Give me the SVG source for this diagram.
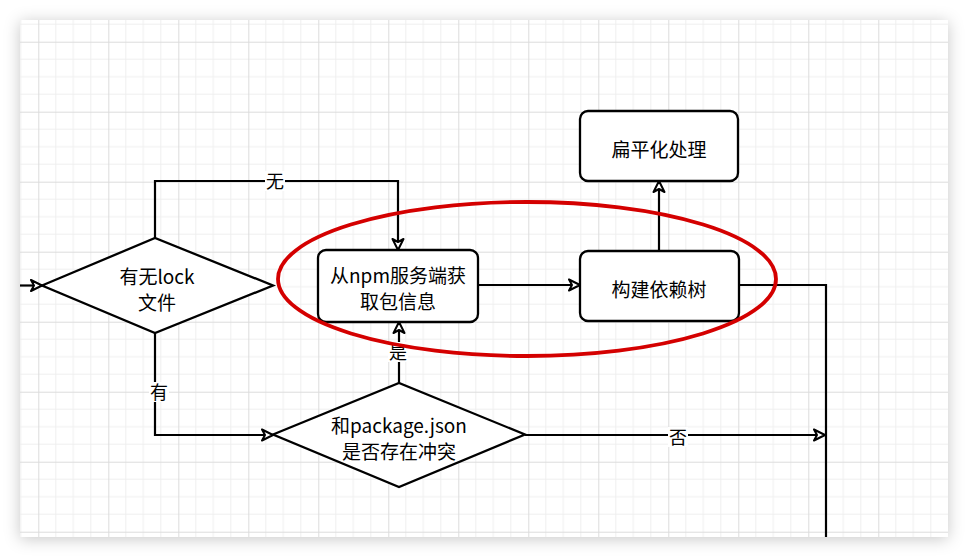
<svg xmlns="http://www.w3.org/2000/svg" width="969" height="557" viewBox="0 0 969 557">
  <defs>
    <pattern id="grid" patternUnits="userSpaceOnUse" x="38.3" y="41.7" width="70" height="70">
      <path d="M17.5,0V70M35,0V70M52.5,0V70M0,17.5H70M0,35H70M0,52.5H70" stroke="#efefef" stroke-width="1" fill="none"/>
      <path d="M0.5,0V70M0,0.5H70" stroke="#dcdcdc" stroke-width="1" fill="none"/>
    </pattern>
    <filter id="shadow" x="-10%" y="-10%" width="120%" height="120%">
      <feDropShadow dx="0" dy="2" stdDeviation="8" flood-color="#000" flood-opacity="0.22"/>
    </filter>
    <marker id="arr" markerUnits="userSpaceOnUse" markerWidth="16" markerHeight="14" refX="13" refY="7" orient="auto">
      <path d="M2,1.5 L13,7 L2,12.5 L5,7 Z" fill="#fff" stroke="#000" stroke-width="2" stroke-linejoin="round"/>
    </marker>
    <style>
      .shape { fill: #fff; stroke: #000; stroke-width: 2.3; }
      .conn { fill: none; stroke: #000; stroke-width: 2.2; }
      .t { font-family: "Noto Sans CJK SC", "Noto Sans", sans-serif; font-size: 19px; fill: #000; text-anchor: middle; }
      .lbl { font-family: "Noto Sans CJK SC", "Noto Sans", sans-serif; font-size: 18px; fill: #000; text-anchor: middle; }
      .lblbg { fill: #fff; }
    </style>
  </defs>

  <rect x="0" y="0" width="969" height="557" fill="#fff"/>
  <rect x="20" y="20" width="928" height="517" fill="#fff" filter="url(#shadow)"/>
  <rect x="20" y="20" width="928" height="517" fill="url(#grid)"/>

  <g id="connectors">
    <path class="conn" d="M20,285.5 H42" marker-end="url(#arr)"/>
    <path class="conn" d="M155,238 V181 H398 V250" marker-end="url(#arr)"/>
    <path class="conn" d="M155,333 V435 H273" marker-end="url(#arr)"/>
    <path class="conn" d="M399,383 V322" marker-end="url(#arr)"/>
    <path class="conn" d="M478,285 H580" marker-end="url(#arr)"/>
    <path class="conn" d="M659,251 V181" marker-end="url(#arr)"/>
    <path class="conn" d="M739,285 H826 V537"/>
    <path class="conn" d="M525,435 H825" marker-end="url(#arr)"/>
    <rect class="lblbg" x="265" y="171" width="20" height="20"/>
    <text class="lbl" x="275" y="187.5">无</text>
    <rect class="lblbg" x="149" y="382" width="20" height="20"/>
    <text class="lbl" x="159" y="398.5">有</text>
    <rect class="lblbg" x="388" y="342" width="20" height="20"/>
    <text class="lbl" x="398" y="358.5">是</text>
    <rect class="lblbg" x="668" y="427" width="20" height="20"/>
    <text class="lbl" x="678" y="443.5">否</text>
  </g>

  <g id="node-lock">
    <polygon class="shape" points="42,285.5 155,238 273,285.5 155,333"/>
    <text class="t" x="157" y="283.5">有无lock</text>
    <text class="t" x="157" y="309.5">文件</text>
  </g>

  <g id="node-fetch">
    <rect class="shape" x="318" y="250" width="160" height="72" rx="8"/>
    <text class="t" x="398" y="283">从npm服务端获</text>
    <text class="t" x="398" y="309">取包信息</text>
  </g>

  <g id="node-build">
    <rect class="shape" x="580" y="251" width="159" height="70" rx="8"/>
    <text class="t" x="659" y="297">构建依赖树</text>
  </g>

  <g id="node-flatten">
    <rect class="shape" x="580" y="111" width="158" height="70" rx="8"/>
    <text class="t" x="659" y="157">扁平化处理</text>
  </g>

  <g id="node-conflict">
    <polygon class="shape" points="273,434.5 399,383 525,434.5 399,487"/>
    <text class="t" x="399" y="433">和package.json</text>
    <text class="t" x="399" y="459">是否存在冲突</text>
  </g>

  <g id="highlight">
    <ellipse cx="527" cy="279" rx="249" ry="77" fill="none" stroke="#d40000" stroke-width="3.8"/>
  </g>
</svg>
